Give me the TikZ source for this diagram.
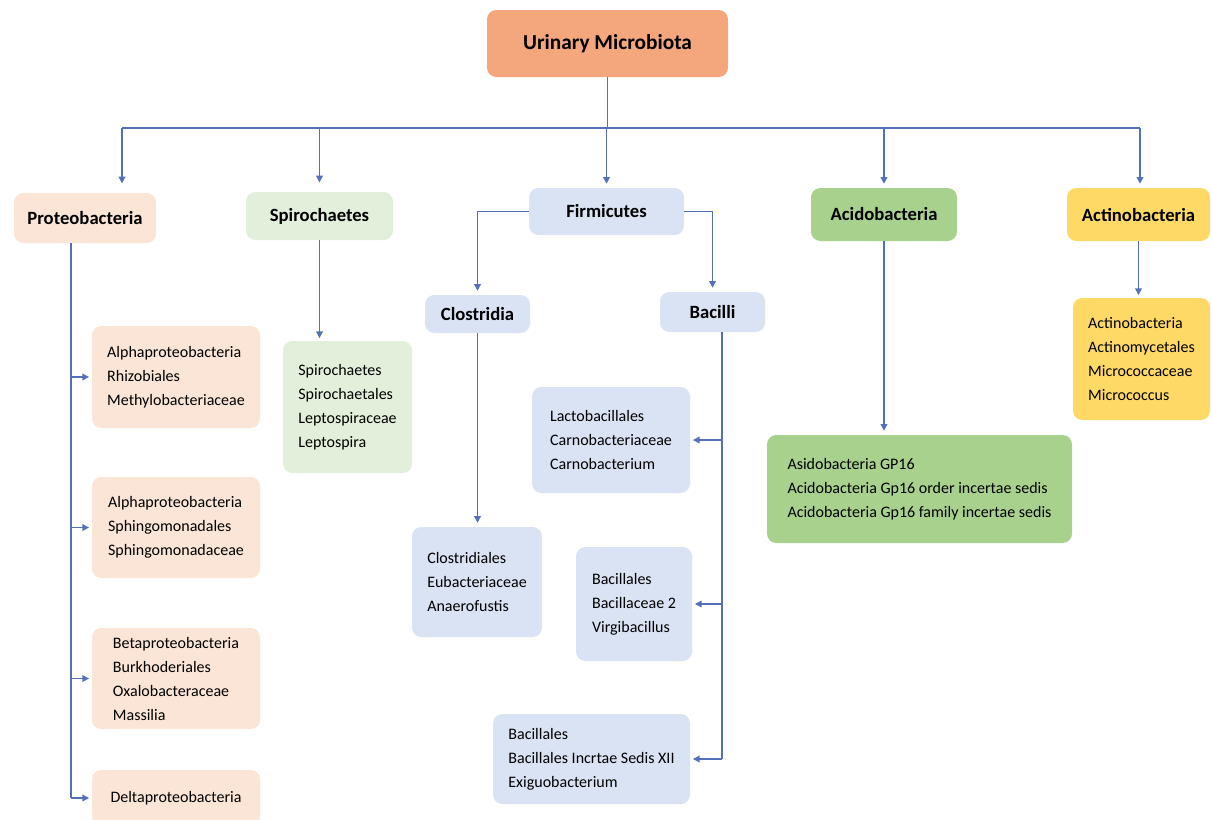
\documentclass[tikz,border=0pt]{standalone}
\usepackage{fontspec}
\setmainfont{Carlito}
\usetikzlibrary{arrows.meta}
\definecolor{cTitle}{HTML}{F4A67C}
\definecolor{cPeach}{HTML}{FBE5D6}
\definecolor{cLGreen}{HTML}{E2EFDA}
\definecolor{cLBlue}{HTML}{DAE3F3}
\definecolor{cGreen}{HTML}{A9D18E}
\definecolor{cYellow}{HTML}{FFD966}
\definecolor{cLine}{HTML}{5470B8}
\tikzset{
  box/.style={rounded corners=7pt, inner sep=0pt, align=left, text=black},
  head/.style={box, font=\fontsize{14}{17}\selectfont\bfseries},
  leaf/.style={box, font=\fontsize{12}{18}\selectfont},
  link/.style={draw=cLine, line width=1pt},
  arr/.style={link, -{Triangle[width=5pt,length=5pt]}, shorten >=2pt},
}
\begin{document}
\begin{tikzpicture}[x=0.75pt,y=-0.75pt]
\useasboundingbox (0,0) rectangle (1212,819);
% top level
\node[box, fill=cTitle, font=\fontsize{16}{19}\selectfont\bfseries, minimum width=180.75pt, minimum height=50.25pt] (title) at (607.5,43.5) {Urinary Microbiota};
\node[head, fill=cPeach, minimum width=106.5pt, minimum height=37.5pt] (proteo) at (85,218) {Proteobacteria};
\node[head, fill=cLGreen, minimum width=110.25pt, minimum height=36pt] (spiro) at (319.5,216) {Spirochaetes};
\node[head, fill=cLBlue, minimum width=116.25pt, minimum height=35.25pt] (firm) at (606.5,211.5) {Firmicutes};
\node[head, fill=cGreen, minimum width=109.5pt, minimum height=39.75pt] (acido) at (884,214.5) {Acidobacteria};
\node[head, fill=cYellow, minimum width=107.25pt, minimum height=39.75pt] (actino) at (1138.5,214.5) {Actinobacteria};
\node[head, fill=cLBlue, minimum width=78.75pt, minimum height=28.5pt] (clos) at (477.5,314) {Clostridia};
\node[head, fill=cLBlue, minimum width=78.75pt, minimum height=30pt] (bac) at (712.5,312) {Bacilli};
% leaves
\node[leaf, fill=cPeach, minimum width=126pt, minimum height=76.5pt] (p1) at (176,377) {Alphaproteobacteria\\Rhizobiales\\Methylobacteriaceae};
\node[leaf, fill=cPeach, minimum width=126pt, minimum height=75.75pt] (p2) at (176,527.5) {Alphaproteobacteria\\Sphingomonadales\\Sphingomonadaceae};
\node[leaf, fill=cPeach, minimum width=126pt, minimum height=75.75pt] (p3) at (176,678.5) {Betaproteobacteria\\Burkhoderiales\\Oxalobacteraceae\\Massilia};
\node[leaf, fill=cPeach, minimum width=126pt, minimum height=42pt] (p4) at (176,798) {Deltaproteobacteria};
\node[leaf, fill=cLGreen, minimum width=96.75pt, minimum height=99pt] (sc) at (347.5,407) {Spirochaetes\\Spirochaetales\\Leptospiraceae\\Leptospira};
\node[leaf, fill=cLBlue, minimum width=97.5pt, minimum height=82.5pt] (cc) at (477,582) {Clostridiales\\Eubacteriaceae\\Anaerofustis};
\node[leaf, fill=cLBlue, minimum width=118.5pt, minimum height=79.5pt] (b1) at (611,440) {Lactobacillales\\Carnobacteriaceae\\Carnobacterium};
\node[leaf, fill=cLBlue, minimum width=87pt, minimum height=85.5pt] (b2) at (634,604) {Bacillales\\Bacillaceae 2\\Virgibacillus};
\node[leaf, fill=cLBlue, minimum width=147.75pt, minimum height=67.5pt] (b3) at (591.5,759) {Bacillales\\Bacillales Incrtae Sedis XII\\Exiguobacterium};
\node[leaf, fill=cGreen, minimum width=228.75pt, minimum height=81pt] (ac) at (919.5,489) {Asidobacteria GP16\\Acidobacteria Gp16 order incertae sedis\\Acidobacteria Gp16 family incertae sedis};
\node[leaf, fill=cYellow, minimum width=102.75pt, minimum height=91.5pt] (at) at (1141.5,359) {Actinobacteria\\Actinomycetales\\Micrococcaceae\\Micrococcus};
% bus
\coordinate (busL) at (122,128);
\coordinate (busR) at (1140,128);
\draw[link] (title.south) -- (title.south |- busL);
\draw[link] (busL) -- (busR);
\draw[arr, shorten >=7pt] (busL) -- (busL |- proteo.north);
\draw[arr, shorten >=7pt] (spiro.north |- busL) -- (spiro.north);
\draw[arr, shorten >=3pt] (firm.north |- busL) -- (firm.north);
\draw[arr, shorten >=3pt] (acido.north |- busL) -- (acido.north);
\draw[arr, shorten >=3pt] (busR) -- (busR |- actino.north);
% proteobacteria spine
\coordinate (ps) at (71,243);
\draw[link] (ps) -- (ps |- p4.west);
\draw[arr] (ps |- p1.west) -- (p1.west);
\draw[arr] (ps |- p2.west) -- (p2.west);
\draw[arr] (ps |- p3.west) -- (p3.west);
\draw[arr] (ps |- p4.west) -- (p4.west);
% spirochaetes
\draw[arr] (spiro.south) -- (spiro.south |- sc.north);
% firmicutes
\draw[arr, shorten >=3pt] (firm.west) -| (clos.north);
\draw[arr, shorten >=3pt] (firm.east) -| (bac.north);
\draw[arr, shorten >=3pt] (clos.south) -- (clos.south |- cc.north);
% bacilli spine
\coordinate (bs) at (722,332);
\draw[link] (bs) -- (bs |- b3.east);
\draw[arr] (bs |- b1.east) -- (b1.east);
\draw[arr] (bs |- b2.east) -- (b2.east);
\draw[arr] (bs |- b3.east) -- (b3.east);
% acido, actino
\draw[arr, shorten >=3pt] (acido.south) -- (acido.south |- ac.north);
\draw[arr, shorten >=2pt] (actino.south) -- (actino.south |- at.north);
\end{tikzpicture}
\end{document}
